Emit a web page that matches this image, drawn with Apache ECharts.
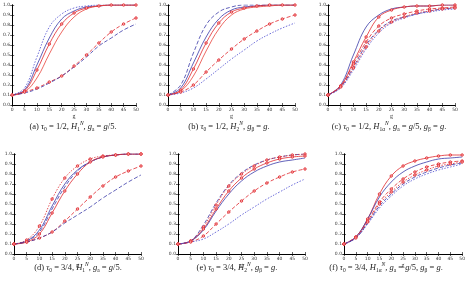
<!DOCTYPE html>
<html>
<head>
<meta charset="utf-8">
<script src="https://cdn.jsdelivr.net/npm/echarts@6/dist/echarts.min.js"></script>
<style>
html, body { margin: 0; padding: 0; background: #fff; }
#chart { width: 468px; height: 283px; }
</style>
</head>
<body>
<div id="chart"></div>
<script>
var gValues = [0, 5, 10, 15, 20, 25, 30, 35, 40, 45, 50];

// (a)
var curvesA = [
	[0.1, 0.17, 0.48, 0.78, 0.91, 0.97, 0.99, 1, 1, 1, 1],
	[0.1, 0.15, 0.4, 0.67, 0.86, 0.94, 0.98, 0.99, 1, 1, 1],
	[0.1, 0.14, 0.35, 0.61, 0.81, 0.92, 0.97, 0.99, 1, 1, 1],
	[0.1, 0.13, 0.27, 0.51, 0.73, 0.88, 0.96, 0.99, 1, 1, 1],
	[0.1, 0.13, 0.17, 0.23, 0.29, 0.39, 0.5, 0.62, 0.73, 0.81, 0.87],
	[0.1, 0.12, 0.16, 0.22, 0.29, 0.38, 0.48, 0.59, 0.67, 0.75, 0.81]
];
var stylesA = ['bo', 'bs', 'rs', 'rn', 'rd', 'bd'];

// (b)
var curvesB = [
	[0.1, 0.2, 0.52, 0.8, 0.93, 0.98, 1, 1, 1, 1, 1],
	[0.1, 0.17, 0.42, 0.68, 0.86, 0.95, 0.98, 0.99, 1, 1, 1],
	[0.1, 0.15, 0.36, 0.62, 0.82, 0.93, 0.97, 0.99, 1, 1, 1],
	[0.1, 0.14, 0.29, 0.54, 0.76, 0.9, 0.96, 0.98, 0.99, 1, 1],
	[0.1, 0.13, 0.2, 0.33, 0.45, 0.56, 0.66, 0.74, 0.81, 0.86, 0.9],
	[0.1, 0.12, 0.17, 0.26, 0.36, 0.46, 0.55, 0.64, 0.71, 0.77, 0.82]
];
var stylesB = ['bd', 'bs', 'rs', 'rn', 'rd', 'bo'];

// (c)
var curvesC = [
	[0.1, 0.2, 0.5, 0.78, 0.9, 0.96, 0.98, 0.99, 0.99, 1, 1],
	[0.1, 0.19, 0.43, 0.68, 0.88, 0.95, 0.98, 0.99, 0.99, 1, 1],
	[0.1, 0.18, 0.38, 0.6, 0.75, 0.84, 0.88, 0.91, 0.94, 0.96, 0.97],
	[0.1, 0.19, 0.41, 0.63, 0.79, 0.87, 0.91, 0.94, 0.96, 0.97, 0.98],
	[0.1, 0.18, 0.37, 0.58, 0.74, 0.83, 0.88, 0.92, 0.94, 0.96, 0.97],
	[0.1, 0.17, 0.35, 0.56, 0.72, 0.82, 0.87, 0.91, 0.93, 0.95, 0.96]
];
var stylesC = ['bs', 'rs', 'bd', 'rd', 'ro', 'bo'];

// (d)
var curvesD = [
	[0.1, 0.14, 0.28, 0.55, 0.76, 0.88, 0.95, 0.98, 0.99, 1, 1],
	[0.1, 0.13, 0.24, 0.48, 0.7, 0.84, 0.92, 0.97, 0.99, 1, 1],
	[0.1, 0.13, 0.22, 0.45, 0.67, 0.83, 0.92, 0.97, 0.99, 1, 1],
	[0.1, 0.12, 0.2, 0.41, 0.63, 0.8, 0.92, 0.97, 0.99, 1, 1],
	[0.1, 0.12, 0.16, 0.22, 0.33, 0.45, 0.57, 0.68, 0.77, 0.83, 0.88],
	[0.1, 0.12, 0.16, 0.22, 0.31, 0.39, 0.47, 0.56, 0.64, 0.72, 0.79]
];
var stylesD = ['ro', 'bs', 'bd', 'rs', 'rd', 'bd'];

// (e)
var curvesE = [
	[0.1, 0.13, 0.29, 0.51, 0.69, 0.81, 0.89, 0.94, 0.97, 0.99, 1],
	[0.1, 0.13, 0.27, 0.49, 0.68, 0.8, 0.88, 0.94, 0.97, 0.99, 1],
	[0.1, 0.13, 0.25, 0.45, 0.63, 0.76, 0.85, 0.91, 0.95, 0.97, 0.98],
	[0.1, 0.13, 0.24, 0.43, 0.6, 0.73, 0.82, 0.88, 0.92, 0.94, 0.96],
	[0.1, 0.12, 0.18, 0.3, 0.42, 0.53, 0.63, 0.71, 0.77, 0.82, 0.85],
	[0.1, 0.12, 0.15, 0.22, 0.3, 0.39, 0.47, 0.55, 0.62, 0.69, 0.75]
];
var stylesE = ['bd', 'ro', 'rs', 'bs', 'rd', 'bo'];

// (f)
var curvesF = [
	[0.1, 0.17, 0.35, 0.6, 0.78, 0.88, 0.93, 0.96, 0.98, 0.99, 0.99],
	[0.1, 0.17, 0.35, 0.57, 0.72, 0.82, 0.88, 0.92, 0.95, 0.96, 0.97],
	[0.1, 0.17, 0.33, 0.52, 0.65, 0.75, 0.82, 0.87, 0.9, 0.92, 0.93],
	[0.1, 0.16, 0.32, 0.5, 0.62, 0.72, 0.79, 0.84, 0.88, 0.9, 0.92],
	[0.1, 0.16, 0.31, 0.48, 0.6, 0.7, 0.77, 0.82, 0.86, 0.89, 0.91],
	[0.1, 0.16, 0.3, 0.46, 0.58, 0.68, 0.75, 0.8, 0.84, 0.87, 0.9]
];
var stylesF = ['rs', 'bs', 'rd', 'ro', 'bd', 'bo'];

var captions = [
	'(a) {i|τ}{sub|0} = 1/2, {i|H}{sub|1}{sup|N}, {i|g}{sub|a} = {i|g}/5.',
	'(b) {i|τ}{sub|0} = 1/2, {i|H}{sub|2}{sup|N}, {i|g}{sub|β} = {i|g}.',
	'(c) {i|τ}{sub|0} = 1/2, {i|H}{sub|1α}{sup|N}, {i|g}{sub|a} = {i|g}/5, {i|g}{sub|β} = {i|g}.',
	'(d) {i|τ}{sub|0} = 3/4, {i|H}{sub|1}{sup|N}, {i|g}{sub|a} = {i|g}/5.',
	'(e) {i|τ}{sub|0} = 3/4, {i|H}{sub|2}{sup|N}, {i|g}{sub|β} = {i|g}.',
	'(f) {i|τ}{sub|0} = 3/4, {i|H}{sub|1α}{sup|N}, {i|g}{sub|a} = {i|g}/5, {i|g}{sub|β} = {i|g}.'
];

var panels = [
	{ curves: curvesA, styles: stylesA, left: 9, top: 5, cx: 73, cy: 127 },
	{ curves: curvesB, styles: stylesB, left: 168, top: 5, cx: 229, cy: 127 },
	{ curves: curvesC, styles: stylesC, left: 328, top: 5, cx: 389, cy: 127 },
	{ curves: curvesD, styles: stylesD, left: 14, top: 154, cx: 78, cy: 268 },
	{ curves: curvesE, styles: stylesE, left: 178, top: 154, cx: 237, cy: 268 },
	{ curves: curvesF, styles: stylesF, left: 344, top: 154, cx: 386, cy: 268 }
];

var BLUE = '#3a3aa8';
var RED = '#e0262c';
var lineLook = {
	bs: { color: BLUE, type: 'solid', mark: false },
	bd: { color: BLUE, type: [4, 2], mark: false },
	bo: { color: '#4b4bd0', type: [1.5, 1.5], mark: false },
	rs: { color: RED, type: 'solid', mark: true },
	rn: { color: '#e8413a', type: 'solid', mark: false },
	rd: { color: RED, type: [4, 2], mark: true },
	ro: { color: RED, type: [1.5, 1.5], mark: true }
};

var grids = [], xAxes = [], yAxes = [], series = [], graphics = [];
var tickFont = { fontSize: 4.5, color: '#333', fontFamily: 'DejaVu Sans' };

panels.forEach(function (p, k) {
	grids.push({ left: p.left, top: p.top, width: 127, height: 100 });
	// bottom and top x axes
	xAxes.push({
		gridIndex: k, type: 'value', min: 0, max: 50, interval: 5,
		name: 'g', nameLocation: 'middle', nameGap: 8,
		nameTextStyle: { fontSize: 6, color: '#333', fontFamily: 'Liberation Serif' },
		axisLine: { lineStyle: { color: '#000', width: 1 } },
		axisTick: { inside: true, length: 2, lineStyle: { color: '#000', width: 0.6 } },
		axisLabel: Object.assign({ margin: 2 }, tickFont),
		splitLine: { show: false }
	});
	xAxes.push({
		gridIndex: k, type: 'value', min: 0, max: 50, interval: 5, position: 'top',
		axisLine: { lineStyle: { color: '#000', width: 1 } },
		axisTick: { inside: true, length: 2, lineStyle: { color: '#000', width: 0.6 } },
		axisLabel: { show: false },
		splitLine: { show: false }
	});
	yAxes.push({
		gridIndex: k, type: 'value', min: 0, max: 1, interval: 0.1,
		axisLine: { lineStyle: { color: '#000', width: 1 } },
		axisTick: { inside: true, length: 2, lineStyle: { color: '#000', width: 0.6 } },
		axisLabel: Object.assign({ margin: 2, formatter: function (v) { return v.toFixed(1); } }, tickFont),
		splitLine: { show: false }
	});
	yAxes.push({
		gridIndex: k, type: 'value', min: 0, max: 1, interval: 0.1, position: 'right',
		axisLine: { lineStyle: { color: '#000', width: 1 } },
		axisTick: { inside: true, length: 2, lineStyle: { color: '#000', width: 0.6 } },
		axisLabel: { show: false },
		splitLine: { show: false }
	});

	p.curves.forEach(function (vals, j) {
		var look = lineLook[p.styles[j]];
		series.push({
			type: 'line',
			xAxisIndex: 2 * k,
			yAxisIndex: 2 * k,
			data: gValues.map(function (g, i) { return [g, vals[i]]; }),
			smooth: 0.4,
			showSymbol: look.mark,
			symbol: 'circle',
			symbolSize: 2.5,
			silent: true,
			itemStyle: { color: look.mark ? '#f7b0b0' : look.color, borderColor: look.color, borderWidth: 0.8 },
			lineStyle: { color: look.color, width: 0.8, type: look.type }
		});
	});

	graphics.push({
		type: 'text',
		x: p.cx, y: p.cy,
		style: {
			text: captions[k],
			align: 'center', verticalAlign: 'middle',
			fontFamily: 'Liberation Serif', fontSize: 8.5, fill: '#222', lineHeight: 12,
			rich: {
				i: { fontFamily: 'Liberation Serif', fontStyle: 'italic', fontSize: 8.5, lineHeight: 12 },
				sub: { fontFamily: 'Liberation Serif', fontSize: 5.5, lineHeight: 7, verticalAlign: 'bottom' },
				sup: { fontFamily: 'Liberation Serif', fontStyle: 'italic', fontSize: 5.5, lineHeight: 7, verticalAlign: 'top' }
			}
		}
	});
});

var myChart = echarts.init(document.getElementById('chart'), null, { renderer: 'canvas' });
myChart.setOption({
	animation: false,
	backgroundColor: '#fff',
	grid: grids,
	xAxis: xAxes,
	yAxis: yAxes,
	series: series,
	graphic: graphics
});
</script>
</body>
</html>
